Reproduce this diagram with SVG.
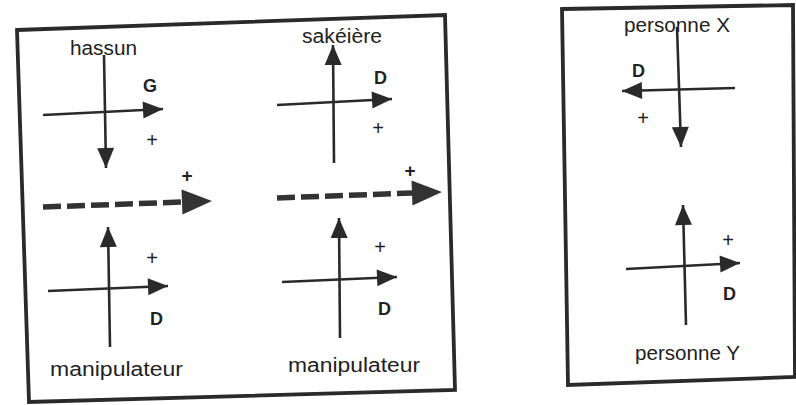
<svg xmlns="http://www.w3.org/2000/svg" width="796" height="405" viewBox="0 0 796 405">
<style>
.frame{fill:none;stroke:#2a2a2a;stroke-width:3.8;stroke-linejoin:miter}
.axa{fill:none;stroke:#2a2a2a;stroke-width:2.6;marker-end:url(#ah)}
.dash{fill:none;stroke:#333;stroke-width:5.5;stroke-dasharray:18 6;marker-end:url(#big)}
.lbl{font-family:"Liberation Sans",Arial,sans-serif;font-size:20px;fill:#222}
.b{font-family:"Liberation Sans",Arial,sans-serif;font-size:18px;font-weight:bold;fill:#222}
.p{font-family:"Liberation Sans",Arial,sans-serif;font-size:20px;fill:#222;text-anchor:middle}
.pb{font-family:"Liberation Sans",Arial,sans-serif;font-size:19px;font-weight:bold;fill:#222;text-anchor:middle}
</style>
<defs>
<marker id="ah" markerUnits="userSpaceOnUse" markerWidth="21" markerHeight="18" refX="20" refY="8.5" orient="auto" viewBox="0 0 21 18" overflow="visible">
<path d="M0,0 L20,8.5 L0,17 z" fill="#2a2a2a"/>
</marker>
<marker id="big" markerUnits="userSpaceOnUse" markerWidth="31" markerHeight="26" refX="0" refY="12.5" orient="auto" viewBox="0 0 31 26" overflow="visible">
<path d="M0,0 L30,12.5 L0,25 z" fill="#333"/>
</marker>
</defs>
<rect width="796" height="405" fill="#fff"/>
<polygon class="frame" points="17,30 445,15 455,390 29,402"/>
<polygon class="frame" points="562,9 793,5 795,377 568,385"/>

<g id="hassun">
<line class="axa" x1="104" y1="55" x2="106" y2="168"/>
<line class="axa" x1="43" y1="115" x2="163" y2="109"/>
<text class="lbl" x="70" y="55" textLength="67" lengthAdjust="spacingAndGlyphs">hassun</text>
<text class="b" x="143" y="92">G</text>
<text class="p" x="152" y="147">+</text>
</g>

<g id="sakeiere">
<line class="axa" x1="334" y1="163" x2="333" y2="45"/>
<line class="axa" x1="277" y1="105" x2="392" y2="99"/>
<text class="lbl" x="302" y="43" textLength="80" lengthAdjust="spacingAndGlyphs">sakéière</text>
<text class="b" x="374" y="84">D</text>
<text class="p" x="378" y="135">+</text>
</g>

<g id="manipulateur1">
<line class="axa" x1="110" y1="347" x2="108" y2="227"/>
<line class="axa" x1="48" y1="291" x2="168" y2="286"/>
<text class="lbl" x="50" y="376" textLength="133" lengthAdjust="spacingAndGlyphs">manipulateur</text>
<text class="b" x="150" y="325">D</text>
<text class="p" x="152" y="265">+</text>
</g>

<g id="manipulateur2">
<line class="axa" x1="340" y1="338" x2="339" y2="218"/>
<line class="axa" x1="282" y1="282" x2="397" y2="277"/>
<text class="lbl" x="288" y="372" textLength="132" lengthAdjust="spacingAndGlyphs">manipulateur</text>
<text class="b" x="378" y="315">D</text>
<text class="p" x="380" y="254">+</text>
</g>

<g id="personneX">
<line class="axa" x1="677" y1="27" x2="681" y2="147"/>
<line class="axa" x1="735" y1="88" x2="622" y2="91"/>
<text class="lbl" x="624" y="32" textLength="106" lengthAdjust="spacingAndGlyphs">personne X</text>
<text class="b" x="632" y="77">D</text>
<text class="p" x="643" y="125">+</text>
</g>

<g id="personneY">
<line class="axa" x1="686" y1="325" x2="683" y2="205"/>
<line class="axa" x1="626" y1="269" x2="740" y2="263"/>
<text class="lbl" x="635" y="360" textLength="105" lengthAdjust="spacingAndGlyphs">personne Y</text>
<text class="b" x="723" y="300">D</text>
<text class="p" x="728" y="247">+</text>
</g>

<g id="connectors">
<path class="dash" d="M43,207 L182,202"/>
<text class="pb" x="187" y="182">+</text>
<path class="dash" d="M277,198 L412,193"/>
<text class="pb" x="410" y="177">+</text>
</g>
</svg>
